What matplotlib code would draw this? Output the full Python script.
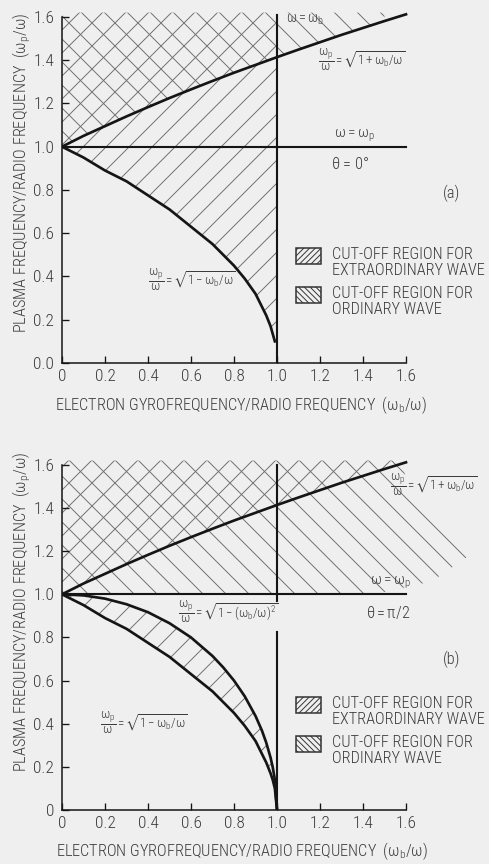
import matplotlib
matplotlib.use("Agg")
import matplotlib.pyplot as plt
from matplotlib import font_manager
from matplotlib.patches import Rectangle

# values (omega_b/omega on x, omega_p/omega on y)
x_upper = [0.0, 0.05, 0.1, 0.2, 0.3, 0.4, 0.5, 0.6, 0.7, 0.8, 0.9, 1.0, 1.1, 1.2, 1.3, 1.4, 1.5, 1.6]
y_upper = [1.00, 1.025, 1.05, 1.095, 1.14, 1.183, 1.225, 1.265, 1.304, 1.342, 1.378, 1.414,
           1.449, 1.483, 1.517, 1.549, 1.581, 1.612]

x_lower_a = [0.0, 0.1, 0.2, 0.3, 0.4, 0.5, 0.6, 0.7, 0.75, 0.8, 0.85, 0.9, 0.93, 0.95, 0.97, 0.99]
y_lower_a = [1.00, 0.95, 0.89, 0.84, 0.775, 0.71, 0.63, 0.55, 0.50, 0.45, 0.39, 0.32, 0.26,
             0.22, 0.17, 0.10]

x_lower_b = [0.0, 0.1, 0.2, 0.3, 0.4, 0.5, 0.6, 0.7, 0.75, 0.8, 0.85, 0.9, 0.93, 0.95,
             0.97, 0.98, 0.99, 1.0]
y_lower_b = [1.00, 0.95, 0.89, 0.84, 0.775, 0.71, 0.63, 0.55, 0.50, 0.45, 0.39, 0.32, 0.26,
             0.22, 0.17, 0.14, 0.10, 0.0]
y_middle_b = [1.00, 0.995, 0.98, 0.954, 0.917, 0.866, 0.80, 0.714, 0.661, 0.60, 0.527, 0.436,
              0.368, 0.312, 0.243, 0.199, 0.141, 0.0]

# ordinary-wave region in (b), rough outline of the hatched band
ord_b_x = [0.0, 1.45, 1.72, 1.88, 1.88, 1.62, 1.58, 0.0]
ord_b_y = [1.00, 1.00, 1.06, 1.17, 1.25, 1.45, 1.62, 1.62]

hatch_top = 1.62
wp_line_x = [0.0, 1.6]
wp_line_y = [1.0, 1.0]
wb_a_y = [0.0, 1.61]
wb_b_lo = [0.0, 0.825]
wb_b_hi = [0.97, 1.60]

ticks = [0.0, 0.2, 0.4, 0.6, 0.8, 1.0, 1.2, 1.4, 1.6]
xticklabels = ["0", "0.2", "0.4", "0.6", "0.8", "1.0", "1.2", "1.4", "1.6"]
yticklabels_a = ["0.0", "0.2", "0.4", "0.6", "0.8", "1.0", "1.2", "1.4", "1.6"]
yticklabels_b = ["0", "0.2", "0.4", "0.6", "0.8", "1.0", "1.2", "1.4", "1.6"]

# the original lettering is a condensed sans; use one if the machine has it
FONT, STRETCH, FS = 'Liberation Sans', 'normal', 7.2
names = {(f.name, f.stretch) for f in font_manager.fontManager.ttflist}
for name in ['Roboto Condensed', 'Liberation Sans Narrow', 'DejaVu Sans Condensed',
             'Open Sans Condensed', 'Noto Sans Condensed']:
    if any(n == name for n, s in names):
        FONT, STRETCH, FS = name, 'normal', 8.5
        break
else:
    for name in ['DejaVu Sans', 'Noto Sans', 'Roboto', 'Open Sans']:
        if (name, 'condensed') in names:
            FONT, STRETCH, FS = name, 'condensed', 8.5
            break

plt.rcParams['font.family'] = [FONT, 'DejaVu Sans']
plt.rcParams['font.stretch'] = STRETCH
plt.rcParams['font.weight'] = 'light'
plt.rcParams['mathtext.fontset'] = 'custom'
plt.rcParams['mathtext.rm'] = FONT + ':light'
plt.rcParams['mathtext.it'] = FONT + ':light'
plt.rcParams['mathtext.sf'] = FONT + ':light'
plt.rcParams['mathtext.fallback'] = 'stixsans'
plt.rcParams['hatch.linewidth'] = 0.5

BG = '#efefef'
INK = '#151515'
TXT = '#3c3c3c'
HATCH = '#707070'
W, H = 490, 864
DPI = 138

fig = plt.figure(figsize=(W / DPI, H / DPI), dpi=DPI, facecolor=BG)
ax_a = fig.add_axes([62 / W, 1 - 363 / H, 428 / W, 353 / H])
ax_b = fig.add_axes([62 / W, 1 - 810 / H, 428 / W, 352 / H])


def style_axes(ax, ylabels):
    ax.set_facecolor(BG)
    ax.set_xlim(0, 428 / 215)
    ax.set_ylim(0, 1.632)
    for s in ['top', 'right']:
        ax.spines[s].set_visible(False)
    for s in ['left', 'bottom']:
        ax.spines[s].set_bounds(0, 1.6)
        ax.spines[s].set_linewidth(0.8)
        ax.spines[s].set_color(INK)
    ax.set_xticks(ticks)
    ax.set_xticklabels(xticklabels)
    ax.set_yticks(ticks)
    ax.set_yticklabels(ylabels)
    ax.tick_params(direction='in', length=3.5, width=0.7, color=INK,
                   labelcolor=TXT, labelsize=FS + 0.5)
    ax.tick_params(axis='y', pad=4)
    ax.tick_params(axis='x', pad=3)


def legend_box(x, y, hatch):
    # x, y = top-left corner in pixels
    fig.add_artist(Rectangle((x / W, 1 - (y + 16) / H), 25 / W, 16 / H,
                             transform=fig.transFigure, facecolor='none',
                             edgecolor='#333333', linewidth=0.8, hatch=hatch))


def legend(y1, y2):
    legend_box(296, y1, '////////')
    legend_box(296, y2, '\\' * 8)
    fig.text(332 / W, 1 - (y1 - 1) / H, "CUT-OFF REGION FOR\nEXTRAORDINARY WAVE",
             fontsize=FS, color=TXT, va='top', ha='left', linespacing=1.05)
    fig.text(332 / W, 1 - (y2 - 1) / H, "CUT-OFF REGION FOR\nORDINARY WAVE",
             fontsize=FS, color=TXT, va='top', ha='left', linespacing=1.05)


hatch_kw = dict(facecolor='none', edgecolor=HATCH, linewidth=0, zorder=1)
line_kw = dict(color=INK, zorder=3)
EQ = 6.8  # size of the formula labels

# ---------- (a)  theta = 0 ----------
style_axes(ax_a, yticklabels_a)
ax_a.fill_between(x_lower_a + [1.0], y_lower_a + [0.10], hatch_top, hatch='//', **hatch_kw)
ax_a.fill_between(x_upper, y_upper, hatch_top, where=[x <= 1.5 for x in x_upper],
                  hatch='\\\\', **hatch_kw)
ax_a.plot(x_upper, y_upper, lw=1.4, **line_kw)
ax_a.plot(x_lower_a, y_lower_a, lw=1.4, **line_kw)
ax_a.plot(wp_line_x, wp_line_y, lw=1.1, **line_kw)
ax_a.plot([1.0, 1.0], wb_a_y, lw=1.1, **line_kw)

ax_a.text(1.04, 1.585, r'$\omega = \omega_b$', fontsize=7.5, color=TXT, va='center')
ax_a.text(1.19, 1.40, r'$\dfrac{\omega_p}{\omega} = \sqrt{1+\omega_b/\omega}$',
          fontsize=EQ, color=TXT, va='center')
ax_a.text(1.36, 1.05, r'$\omega = \omega_p$', fontsize=8, color=TXT, ha='center', va='center')
ax_a.text(1.34, 0.92, r'$\theta$ = 0°', fontsize=8.5, color=TXT, ha='center', va='center')
ax_a.text(1.81, 0.786, '(a)', fontsize=FS, color=TXT, ha='center', va='center')
ax_a.text(0.40, 0.384, r'$\dfrac{\omega_p}{\omega} = \sqrt{1-\omega_b/\omega}$',
          fontsize=EQ, color=TXT, va='center')
legend(248, 287)

# ---------- (b)  theta = pi/2 ----------
style_axes(ax_b, yticklabels_b)
ax_b.fill(ord_b_x, ord_b_y, hatch='\\\\', **hatch_kw)
ax_b.fill_between(x_upper, y_upper, hatch_top, hatch='//', **hatch_kw)
ax_b.fill_between(x_lower_b, y_lower_b, y_middle_b, hatch='//', **hatch_kw)
ax_b.plot(x_upper, y_upper, lw=1.4, **line_kw)
ax_b.plot(x_lower_b, y_lower_b, lw=1.4, **line_kw)
ax_b.plot(x_lower_b, y_middle_b, lw=1.4, **line_kw)
ax_b.plot(wp_line_x, wp_line_y, lw=1.1, **line_kw)
ax_b.plot([1.0, 1.0], wb_b_lo, lw=1.1, **line_kw)
ax_b.plot([1.0, 1.0], wb_b_hi, lw=1.1, **line_kw)

ax_b.text(1.525, 1.507, r'$\dfrac{\omega_p}{\omega} = \sqrt{1+\omega_b/\omega}$',
          fontsize=EQ, color=TXT, va='center', clip_on=False)
ax_b.text(1.525, 1.055, r'$\omega = \omega_p$', fontsize=8, color=TXT, ha='center', va='center')
ax_b.text(1.516, 0.914, r'$\theta = \pi/2$', fontsize=8.5, color=TXT, ha='center', va='center')
ax_b.text(0.54, 0.918, r'$\dfrac{\omega_p}{\omega} = \sqrt{1-(\omega_b/\omega)^2}$',
          fontsize=EQ, color=TXT, va='center')
ax_b.text(1.81, 0.696, '(b)', fontsize=FS, color=TXT, ha='center', va='center')
ax_b.text(0.177, 0.404, r'$\dfrac{\omega_p}{\omega} = \sqrt{1-\omega_b/\omega}$',
          fontsize=EQ, color=TXT, va='center')
legend(697, 736)

# axis titles
ylab = r'PLASMA FREQUENCY/RADIO FREQUENCY  $(\omega_p/\omega)$'
xlab = r'ELECTRON GYROFREQUENCY/RADIO FREQUENCY  $(\omega_b/\omega)$'
fig.text(22 / W, 1 - 173 / H, ylab, rotation=90, fontsize=FS, color=TXT, ha='center', va='center')
fig.text(22 / W, 1 - 612 / H, ylab, rotation=90, fontsize=FS, color=TXT, ha='center', va='center')
fig.text(241 / W, 1 - 405 / H, xlab, fontsize=FS, color=TXT, ha='center', va='center')
fig.text(242 / W, 1 - 851 / H, xlab, fontsize=FS, color=TXT, ha='center', va='center')

fig.savefig('out.png', dpi=DPI, facecolor=BG)
